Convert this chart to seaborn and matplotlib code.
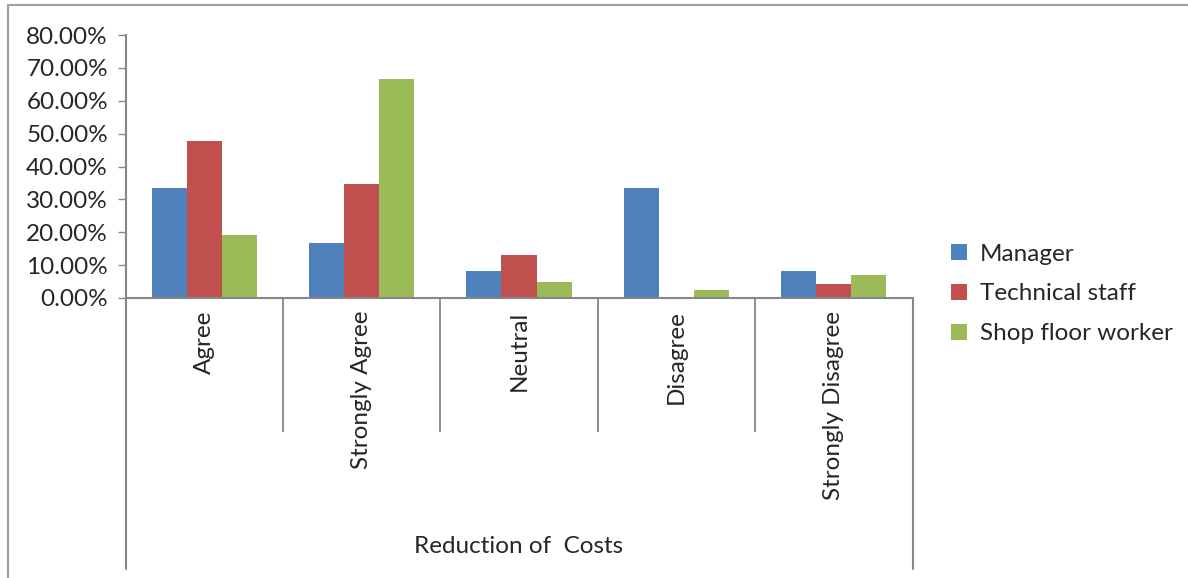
import pandas as pd
import matplotlib
matplotlib.use("Agg")
import matplotlib.pyplot as plt
import seaborn as sns
from matplotlib.ticker import PercentFormatter, FixedLocator
from matplotlib.lines import Line2D

# data
categories = ["Agree", "Strongly Agree", "Neutral", "Disagree", "Strongly Disagree"]
manager = [0.3333, 0.1667, 0.0833, 0.3333, 0.0833]
technical = [0.4783, 0.3478, 0.1304, 0.0, 0.0435]
shop_floor = [0.1905, 0.6667, 0.0476, 0.0238, 0.0714]
roles = ["Manager", "Technical staff", "Shop floor worker"]
colors = ["#4F81BD", "#C0504D", "#9BBB59"]

df = pd.DataFrame({
    "category": categories * 3,
    "role": [roles[0]] * 5 + [roles[1]] * 5 + [roles[2]] * 5,
    "value": manager + technical + shop_floor,
})

sns.set_style("white")
plt.rcParams["font.family"] = ["Lato", "DejaVu Sans"]

W, H = 1188, 578
fig = plt.figure(figsize=(W / 100, H / 100), dpi=100)
ax = fig.add_axes([126 / W, 1 - 298 / H, (912 - 126) / W, (298 - 35) / H])

sns.barplot(data=df, x="category", y="value", hue="role", palette=colors,
            width=0.67, saturation=1, ax=ax, order=categories, hue_order=roles,
            linewidth=0)

ax.set_xlim(-0.5, 4.5)
ax.set_ylim(0, 0.8)
ax.yaxis.set_major_locator(FixedLocator([i / 10 for i in range(9)]))
ax.yaxis.set_major_formatter(PercentFormatter(xmax=1, decimals=2))

grey = "#868686"
for side in ["top", "right"]:
    ax.spines[side].set_visible(False)
for side in ["left", "bottom"]:
    ax.spines[side].set_color(grey)
    ax.spines[side].set_linewidth(1.5)

ax.tick_params(axis="y", direction="out", length=6, width=1, color=grey,
               labelsize=17.5, pad=7, left=True)
ax.tick_params(axis="x", which="major", length=0, labelsize=17.5, pad=9, rotation=90)
ax.set_xticks([0.5, 1.5, 2.5, 3.5], minor=True)
ax.tick_params(axis="x", which="minor", direction="out", length=96.5, width=1.3, color=grey,
               bottom=True)
for lbl in ax.get_xticklabels():
    lbl.set_va("top")

ax.set_ylabel("")
ax.set_xlabel("Reduction of  Costs", fontsize=17.5)
ax.xaxis.set_label_coords(0.5, -0.943)
ax.xaxis.label.set_va("center")

# outer axis lines extending down to the label band
fig.add_artist(Line2D([126 / W, 126 / W], [1 - 298 / H, 1 - 569 / H], color=grey, lw=1.5))
fig.add_artist(Line2D([913 / W, 913 / W], [1 - 298 / H, 1 - 569 / H], color=grey, lw=1.5))
# chart area border (top and left)
fig.add_artist(Line2D([8 / W, 1.0], [1 - 5 / H, 1 - 5 / H], color="#A0A0A0", lw=1.5))
fig.add_artist(Line2D([8 / W, 8 / W], [1 - 5 / H, 0.0], color="#A0A0A0", lw=1.5))

ax.legend(loc="center left", bbox_to_anchor=(929 / W, 1 - 294 / H),
          bbox_transform=fig.transFigure, frameon=False, fontsize=17.5,
          handlelength=0.65, handleheight=0.65, handletextpad=0.55, labelspacing=0.78)

fig.savefig("out.png", dpi=100)
